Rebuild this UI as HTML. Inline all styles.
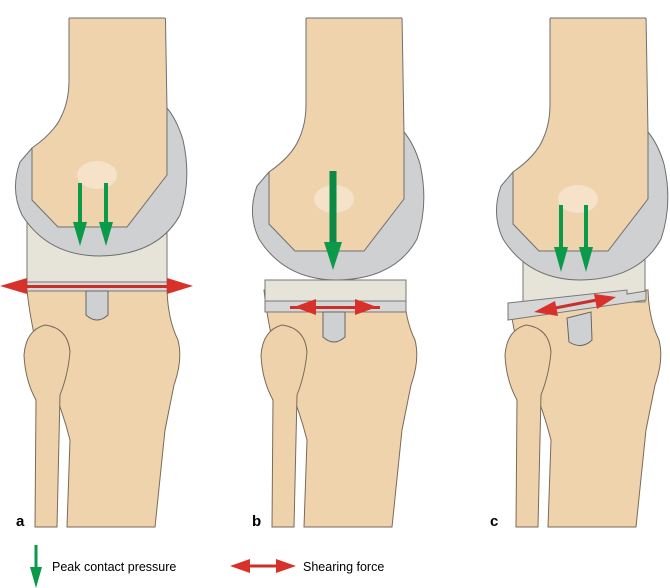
<!DOCTYPE html>
<html><head><meta charset="utf-8"><style>
html,body{margin:0;padding:0;background:#fff;}
svg{display:block}
text{font-family:"Liberation Sans",sans-serif;}
</style></head><body>
<svg width="670" height="588" viewBox="0 0 670 588" xmlns="http://www.w3.org/2000/svg">
<defs>
<g id="upper">
  <path d="M32,148 L20,162 Q10,190 22,215 Q48,256 100,256 Q158,255 180,215 Q192,180 183,140 Q177,120 167,108 Z" fill="#cfd0d2" stroke="#6f6f6f" stroke-width="1"/>
  <path d="M69,-10 L165,-10 L167,110 L167,175 L127,227 L58,227 L32,200 L32,148 Q55,132 62,115 Q69,100 69,80 Z" fill="#efd3ad" stroke="#6f6f6f" stroke-width="1"/>
  <ellipse cx="97" cy="175" rx="20" ry="14" fill="#f6e6cf" opacity="0.8"/>
</g>
<g id="lower">
  <path d="M27,290 L167,290 Q168,320 178,340 Q183,360 174,385 L165,430 L155,527 L67,527 L70,440 Q60,400 40,360 Q30,320 27,290 Z" fill="#efd3ad" stroke="#7a6a58" stroke-width="1"/>
  <path d="M35,527 L36,400 Q25,380 24,355 Q26,330 45,325 Q68,328 70,352 Q68,375 60,395 L57,527 Z" fill="#eed2ac" stroke="#7a6a58" stroke-width="1"/>
</g>
<clipPath id="cb"><rect x="0" y="18" width="670" height="600"/></clipPath>
</defs>

<!-- Panel a -->
<use href="#lower"/>
<rect x="27" y="220" width="140" height="62" fill="#e6e3d8" stroke="#777" stroke-width="1"/>
<g clip-path="url(#cb)"><use href="#upper"/></g>
<line x1="69" y1="18" x2="165" y2="18" stroke="#6f6f6f"/>
<rect x="27" y="282" width="140" height="9" fill="#d8d8d8" stroke="#777" stroke-width="1"/>
<rect x="27" y="285" width="140" height="3" fill="#c8302a"/>
<polygon points="0,286 27,278 27,294" fill="#d8302a"/>
<polygon points="193,286 167,278 167,294" fill="#d8302a"/>
<path d="M86,291 L108,291 L108,315 Q97,325 86,315 Z" fill="#cfd0d2" stroke="#666"/>
<line x1="80" y1="183" x2="80" y2="225" stroke="#0a9a4a" stroke-width="4"/>
<polygon points="73,222 87,222 80,246" fill="#0a9a4a"/>
<line x1="106" y1="183" x2="106" y2="225" stroke="#0a9a4a" stroke-width="4"/>
<polygon points="99,222 113,222 106,246" fill="#0a9a4a"/>
<text x="16" y="526" font-size="15" font-weight="bold">a</text>

<!-- Panel b -->
<g transform="translate(237,0)"><use href="#lower"/></g>
<g clip-path="url(#cb)"><g transform="translate(237,24)"><use href="#upper"/></g></g>
<line x1="306" y1="18" x2="402" y2="18" stroke="#6f6f6f"/>
<rect x="265" y="280" width="141" height="21" fill="#e6e3d8" stroke="#777"/>
<rect x="265" y="301" width="141" height="11" fill="#d6d6d6" stroke="#777"/>
<path d="M323,312 L345,312 L345,337 Q334,347 323,337 Z" fill="#cfd0d2" stroke="#666"/>
<rect x="290" y="306" width="90" height="3" fill="#c8302a"/>
<polygon points="294,307 316,299 316,315" fill="#d8302a"/>
<polygon points="377,307 355,299 355,315" fill="#d8302a"/>
<line x1="333" y1="171" x2="333" y2="245" stroke="#0a8a44" stroke-width="7"/>
<polygon points="324,242 342,242 333,270" fill="#0a9a4a"/>
<text x="252" y="526" font-size="15" font-weight="bold">b</text>

<!-- Panel c -->
<g transform="translate(481,0)"><use href="#lower"/></g>
<polygon points="504,287 523,287 523,302 508,304 504,304" fill="#fff"/>
<rect x="523" y="250" width="122" height="52" fill="#e6e3d8" stroke="#777"/>
<g clip-path="url(#cb)"><g transform="translate(481,24)"><use href="#upper"/></g></g>
<line x1="550" y1="18" x2="646" y2="18" stroke="#6f6f6f"/>
<polygon points="508,303 627,290 627,294 646,291 646,300 508,320" fill="#d6d6d6" stroke="#777"/>
<path d="M567,318 L591,312 L592,340 Q582,350 569,342 Z" fill="#cfd0d2" stroke="#666"/>
<line x1="545" y1="310" x2="607" y2="298" stroke="#c8302a" stroke-width="3"/>
<polygon points="534,312 555,301 558,316" fill="#d8302a"/>
<polygon points="616,297 594,294 597,309" fill="#d8302a"/>
<line x1="561" y1="205" x2="561" y2="250" stroke="#0a9a4a" stroke-width="4"/>
<polygon points="554,247 568,247 561,272" fill="#0a9a4a"/>
<line x1="586" y1="205" x2="586" y2="250" stroke="#0a9a4a" stroke-width="4"/>
<polygon points="579,247 593,247 586,272" fill="#0a9a4a"/>
<text x="490" y="526" font-size="15" font-weight="bold">c</text>

<!-- Legend -->
<line x1="36" y1="545" x2="36" y2="570" stroke="#0a9a4a" stroke-width="3"/>
<polygon points="30,567 42,567 36,588" fill="#0a9a4a"/>
<text x="52" y="571" font-size="12.5">Peak contact pressure</text>
<line x1="245" y1="566" x2="282" y2="566" stroke="#c8302a" stroke-width="3"/>
<polygon points="230,566 250,559 250,573" fill="#d8302a"/>
<polygon points="296,566 276,559 276,573" fill="#d8302a"/>
<text x="303" y="571" font-size="12.5">Shearing force</text>
</svg>
</body></html>
